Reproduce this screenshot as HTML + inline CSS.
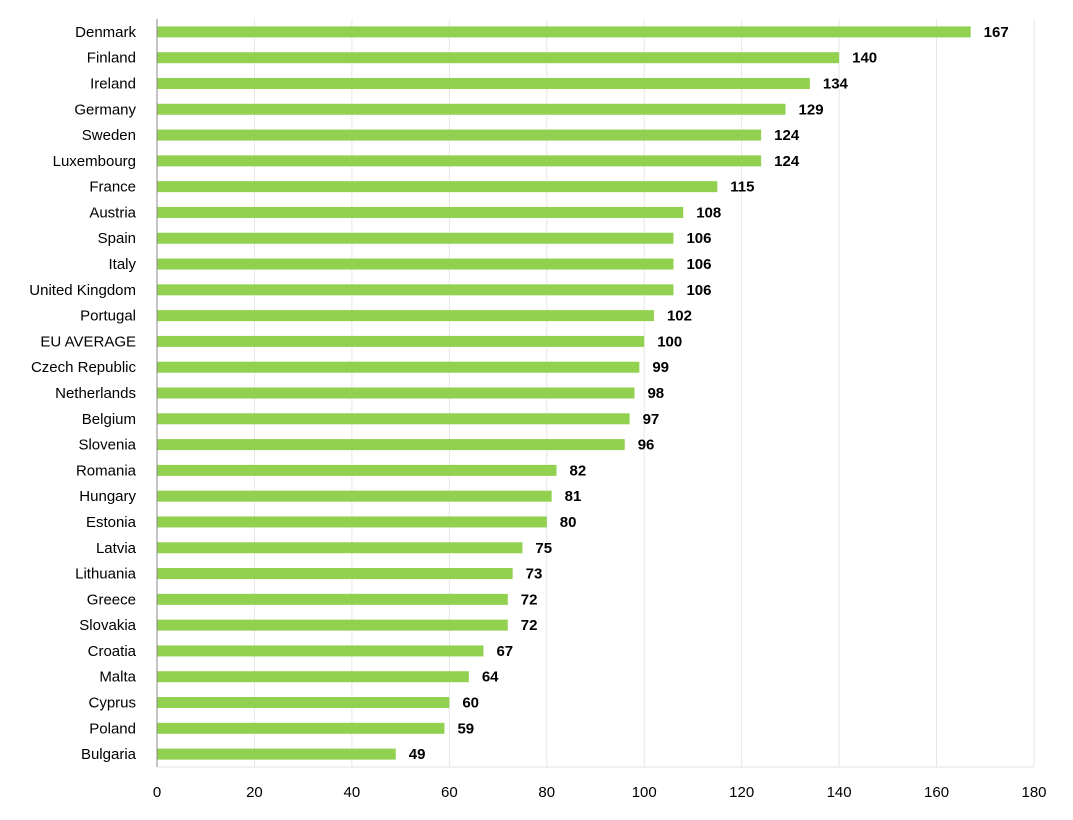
<!DOCTYPE html>
<html><head><meta charset="utf-8"><style>
body{margin:0;background:#fff;}
svg{font-family:"Liberation Sans",sans-serif;}
</style></head><body>
<svg id="chart" width="1073" height="815"></svg>
<script>
const categories=["Denmark","Finland","Ireland","Germany","Sweden","Luxembourg","France","Austria","Spain","Italy","United Kingdom","Portugal","EU AVERAGE","Czech Republic","Netherlands","Belgium","Slovenia","Romania","Hungary","Estonia","Latvia","Lithuania","Greece","Slovakia","Croatia","Malta","Cyprus","Poland","Bulgaria"];
const values=[167,140,134,129,124,124,115,108,106,106,106,102,100,99,98,97,96,82,81,80,75,73,72,72,67,64,60,59,49];
const ticks=[0,20,40,60,80,100,120,140,160,180];
const NS="http://www.w3.org/2000/svg";
const svg=document.getElementById('chart');
const x0=157,x1=1034,xmax=180,yTop=19,yBot=767;
const xs=v=>x0+(v/xmax)*(x1-x0);
const band=(yBot-yTop)/categories.length;
const yc=i=>yTop+band*(i+0.5);
function mk(t,a){const e=document.createElementNS(NS,t);for(const k in a)e.setAttribute(k,a[k]);svg.appendChild(e);return e;}
ticks.forEach(t=>{
  if(t>0){const g=mk('line',{x1:xs(t),x2:xs(t),y1:yTop,y2:yBot,stroke:'#e6e6e6','stroke-width':1});
  
  }
  const l=mk('text',{x:xs(t),y:797,'text-anchor':'middle','font-size':15,fill:'#000'});
  l.textContent=t;
  
  
});
const bl=mk('line',{x1:x0,x2:x1,y1:yBot,y2:yBot,stroke:'#e0e0e0','stroke-width':1});


categories.forEach((c,i)=>{
  const y=yc(i);
  const r=mk('rect',{x:x0,y:y-5.5,width:xs(values[i])-x0,height:11,fill:'#92d050'});
  
  
  const t=mk('text',{x:136,y:y+5,'text-anchor':'end','font-size':15,fill:'#000'});
  t.textContent=c;
  
  
  const v=mk('text',{x:xs(values[i])+13,y:y+5,'font-size':15,'font-weight':'bold',fill:'#000'});
  v.textContent=values[i];
  
  
});
const ax=mk('line',{x1:x0,x2:x0,y1:yTop,y2:yBot,stroke:'#888','stroke-width':1});


</script>
</body></html>
